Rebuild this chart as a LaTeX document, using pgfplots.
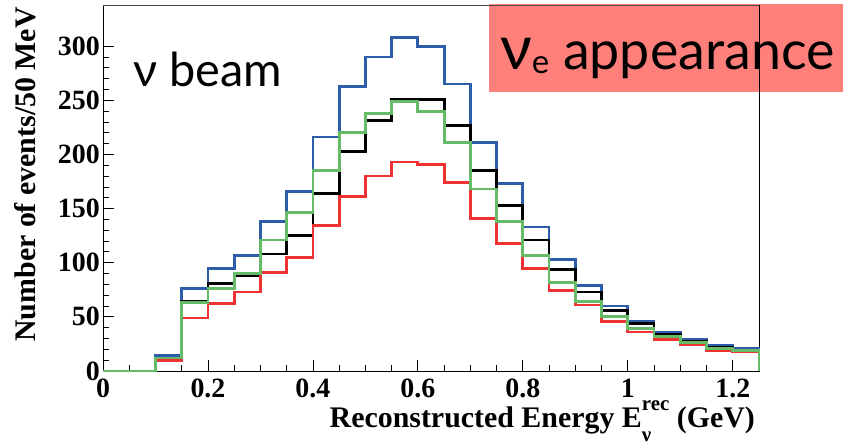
\documentclass[border=0pt]{standalone}
\usepackage{fontspec}
\setmainfont{Liberation Serif}
\newfontfamily\labelsans{Lato}
\usepackage{pgfplots}
\pgfplotsset{compat=1.18}
\definecolor{hblue}{RGB}{45,93,168}
\definecolor{hgreen}{RGB}{102,187,102}
\definecolor{hred}{RGB}{238,50,50}
\definecolor{pinkbox}{RGB}{255,128,122}
\begin{document}
\begin{tikzpicture}[x=1bp,y=1bp]
% annotation box (drawn first, axis frame goes over it)
\fill[pinkbox] (489,353) rectangle (843,441);
\node[anchor=base west, inner sep=0pt] at (500,375)
  {\labelsans\fontsize{62}{62}\selectfont ν\raisebox{-4bp}{\fontsize{33}{33}\selectfont e}\fontsize{54}{54}\selectfont\ appearance};
\begin{axis}[
  at={(103bp,74bp)}, anchor=south west,
  scale only axis, width=656bp, height=366bp,
  xmin=0, xmax=1.25, ymin=0, ymax=338,
  xtick={0,0.2,0.4,0.6,0.8,1,1.2},
  xticklabels={0,0.2,0.4,0.6,0.8,1,1.2},
  minor x tick num=3,
  ytick={0,50,100,150,200,250,300},
  minor y tick num=4,
  tick pos=left, tick align=inside,
  major tick length=11bp, minor tick length=5.5bp,
  axis line style={line width=0.8bp},
  every tick/.style={black, line width=0.8bp},
  /pgf/number format/assume math mode=true,
  xticklabel style={anchor=north, inner sep=0pt, yshift=-8bp, font=\bfseries\fontsize{28}{28}\selectfont},
  yticklabel style={anchor=east, inner sep=0pt, xshift=-3bp, font=\bfseries\fontsize{28}{28}\selectfont},
  scaled ticks=false,
  clip=false,
]
\addplot[const plot, hblue, line width=2.8bp] coordinates {
(0,0) (0.05,0) (0.1,14) (0.15,76) (0.2,95) (0.25,107) (0.3,138) (0.35,166)
(0.4,216) (0.45,263) (0.5,290) (0.55,308) (0.6,300) (0.65,265) (0.7,211)
(0.75,173) (0.8,133) (0.85,103) (0.9,79) (0.95,60) (1.0,46) (1.05,36)
(1.1,29) (1.15,24) (1.2,21) (1.25,0)};
\addplot[const plot, black, line width=2.8bp] coordinates {
(0,0) (0.05,0) (0.1,12) (0.15,64) (0.2,81) (0.25,88) (0.3,108) (0.35,125)
(0.4,164) (0.45,203) (0.5,231) (0.55,251) (0.6,251) (0.65,227) (0.7,185)
(0.75,153) (0.8,121) (0.85,94) (0.9,73) (0.95,56) (1.0,44) (1.05,34)
(1.1,27) (1.15,22) (1.2,19) (1.25,0)};
\addplot[const plot, hred, line width=2.8bp] coordinates {
(0,0) (0.05,0) (0.1,10) (0.15,49) (0.2,62) (0.25,73) (0.3,91) (0.35,105)
(0.4,134) (0.45,161) (0.5,180) (0.55,193) (0.6,191) (0.65,174) (0.7,141)
(0.75,118) (0.8,95) (0.85,74) (0.9,61) (0.95,46) (1.0,36) (1.05,29)
(1.1,24) (1.15,19) (1.2,18) (1.25,0)};
\addplot[const plot, hgreen, line width=2.8bp] coordinates {
(0,0) (0.05,0) (0.1,12) (0.15,63) (0.2,76) (0.25,90) (0.3,121) (0.35,146)
(0.4,185) (0.45,220) (0.5,238) (0.55,249) (0.6,240) (0.65,211) (0.7,168)
(0.75,138) (0.8,107) (0.85,82) (0.9,64) (0.95,50) (1.0,39) (1.05,32)
(1.1,26) (1.15,21) (1.2,19) (1.25,0)};
\end{axis}
% top frame in dark grey as in the reference
\draw[line width=0.8bp, black!70] (103,440) -- (759,440);
% beam label
\node[anchor=base west, inner sep=0pt] at (133,358)
  {\labelsans\fontsize{47}{47}\selectfont ν beam};
% axis titles
\node[anchor=base east, inner sep=0pt] at (755,17)
  {\bfseries\fontsize{30}{30}\selectfont Reconstructed Energy E\setbox0\hbox{\fontsize{21}{21}\selectfont rec}\setbox2\hbox{\fontsize{21}{21}\selectfont ν}\raisebox{17bp}{\copy0}\kern-\wd0\raisebox{-14bp}{\copy2}\kern\dimexpr\wd0-\wd2\relax\ (GeV)};
\node[rotate=90, anchor=east, inner sep=0pt] at (25,438)
  {\bfseries\fontsize{30}{30}\selectfont Number of events/50 MeV};
\pgfresetboundingbox
\useasboundingbox (0,0) rectangle (843,445);
\end{tikzpicture}
\end{document}
